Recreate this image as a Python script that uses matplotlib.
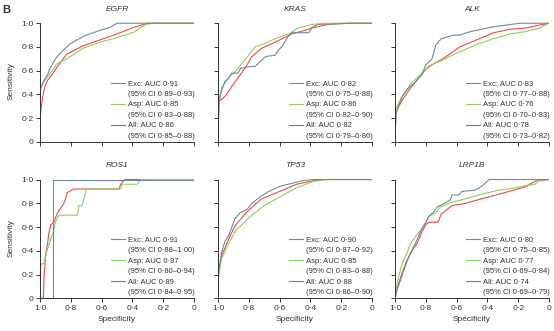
import numpy as np
import matplotlib
matplotlib.use('Agg')
from matplotlib import pyplot as plt
from matplotlib.lines import Line2D

plt.rcParams['font.family'] = ['Liberation Sans', 'DejaVu Sans']

genes = ['EGFR', 'KRAS', 'ALK', 'ROS1', 'TP53', 'LRP1B']
group_names = ['Exc', 'Asp', 'All']
colors = ['#6f8b9b', '#8fcf5c', '#f04848']

x_ticklabels = ['1·0', '0·8', '0·6', '0·4', '0·2', '0']
y_ticklabels = ['0', '0·2', '0·4', '0·6', '0·8', '1·0']

auc_exc = ['0·91', '0·82', '0·83', '0·91', '0·90', '0·80']
ci_exc = ['0·89–0·93', '0·75–0·88', '0·77–0·88', '0·88–1·00', '0·87–0·92', '0·75–0·85']
auc_asp = ['0·85', '0·86', '0·76', '0·87', '0·85', '0·77']
ci_asp = ['0·83–0·88', '0·82–0·90', '0·70–0·83', '0·80–0·94', '0·83–0·88', '0·69–0·84']
auc_all = ['0·86', '0·82', '0·78', '0·89', '0·88', '0·74']
ci_all = ['0·85–0·88', '0·79–0·86', '0·73–0·82', '0·84–0·95', '0·86–0·90', '0·69–0·79']

# EGFR
egfr_exc_spec = [1.0, 0.978, 0.95, 0.935, 0.90, 0.86, 0.827, 0.80, 0.76, 0.70, 0.61, 0.545, 0.50, 0.0]
egfr_exc_sens = [0.43, 0.51, 0.57, 0.62, 0.70, 0.76, 0.80, 0.83, 0.86, 0.90, 0.94, 0.965, 1.0, 1.0]
egfr_asp_spec = [1.0, 0.978, 0.95, 0.92, 0.89, 0.827, 0.72, 0.61, 0.50, 0.39, 0.34, 0.31, 0.26, 0.0]
egfr_asp_sens = [0.47, 0.50, 0.55, 0.60, 0.66, 0.70, 0.79, 0.84, 0.88, 0.925, 0.97, 0.99, 1.0, 1.0]
egfr_all_spec = [1.0, 0.985, 0.97, 0.95, 0.92, 0.89, 0.827, 0.72, 0.61, 0.50, 0.39, 0.30, 0.0]
egfr_all_sens = [0.20, 0.36, 0.46, 0.52, 0.57, 0.63, 0.74, 0.81, 0.86, 0.91, 0.965, 1.0, 1.0]

# KRAS
kras_exc_spec = [1.0, 0.994, 0.975, 0.955, 0.93, 0.91, 0.87, 0.855, 0.80, 0.76, 0.74, 0.69,
                 0.63, 0.61, 0.58, 0.55, 0.52, 0.41, 0.39, 0.28, 0.15, 0.0]
kras_exc_sens = [0.0, 0.34, 0.44, 0.51, 0.54, 0.58, 0.58, 0.62, 0.635, 0.635, 0.66, 0.72,
                 0.73, 0.77, 0.81, 0.88, 0.92, 0.92, 0.96, 0.99, 1.0, 1.0]
kras_asp_spec = [1.0, 0.994, 0.975, 0.93, 0.89, 0.845, 0.80, 0.76, 0.695, 0.63, 0.54, 0.48, 0.39, 0.30, 0.0]
kras_asp_sens = [0.0, 0.35, 0.46, 0.54, 0.59, 0.66, 0.73, 0.80, 0.83, 0.87, 0.91, 0.96, 0.99, 1.0, 1.0]
kras_all_spec = [1.0, 0.994, 0.95, 0.91, 0.87, 0.825, 0.78, 0.715, 0.63, 0.52, 0.41, 0.35, 0.15, 0.0]
kras_all_sens = [0.0, 0.34, 0.39, 0.47, 0.54, 0.62, 0.72, 0.79, 0.84, 0.91, 0.95, 0.99, 1.0, 1.0]

# ALK
alk_exc_spec = [1.0, 0.994, 0.975, 0.955, 0.91, 0.87, 0.825, 0.80, 0.76, 0.735, 0.70, 0.62,
                0.58, 0.51, 0.36, 0.19, 0.0]
alk_exc_sens = [0.0, 0.23, 0.31, 0.38, 0.46, 0.50, 0.57, 0.65, 0.70, 0.816, 0.87, 0.90,
                0.90, 0.93, 0.97, 1.0, 1.0]
alk_asp_spec = [1.0, 0.994, 0.955, 0.89, 0.825, 0.78, 0.69, 0.58, 0.47, 0.36, 0.25, 0.15, 0.06, 0.0]
alk_asp_sens = [0.0, 0.28, 0.38, 0.50, 0.58, 0.64, 0.69, 0.76, 0.82, 0.87, 0.91, 0.93, 0.96, 1.0]
alk_all_spec = [1.0, 0.994, 0.955, 0.89, 0.80, 0.76, 0.69, 0.58, 0.47, 0.36, 0.25, 0.15, 0.06, 0.0]
alk_all_sens = [0.0, 0.25, 0.35, 0.47, 0.61, 0.65, 0.70, 0.80, 0.86, 0.92, 0.95, 0.96, 0.985, 1.0]

# ROS1
ros1_exc_spec = [1.0, 0.913, 0.913, 0.0]
ros1_exc_sens = [0.0, 0.0, 1.0, 1.0]
ros1_asp_spec = [1.0, 0.996, 0.994, 0.975, 0.965, 0.955, 0.935, 0.913, 0.90, 0.877, 0.758,
                 0.748, 0.727, 0.714, 0.697, 0.476, 0.465, 0.37, 0.346, 0.0]
ros1_asp_sens = [0.0, 0.2, 0.29, 0.29, 0.35, 0.40, 0.48, 0.56, 0.64, 0.70, 0.70,
                 0.78, 0.78, 0.84, 0.92, 0.92, 0.96, 0.96, 1.0, 1.0]
ros1_all_spec = [1.0, 0.978, 0.974, 0.963, 0.952, 0.941, 0.93, 0.91, 0.89, 0.87, 0.845,
                 0.833, 0.823, 0.78, 0.487, 0.476, 0.45, 0.0]
ros1_all_sens = [0.0, 0.0, 0.18, 0.37, 0.45, 0.56, 0.62, 0.64, 0.71, 0.75, 0.80,
                 0.84, 0.89, 0.92, 0.92, 0.96, 1.0, 1.0]

# TP53
tp53_exc_spec = [1.0, 0.996, 0.976, 0.955, 0.93, 0.91, 0.89, 0.857, 0.81, 0.78, 0.72, 0.67,
                 0.59, 0.46, 0.39, 0.0]
tp53_exc_sens = [0.0, 0.23, 0.39, 0.48, 0.53, 0.60, 0.67, 0.72, 0.75, 0.80, 0.86, 0.90,
                 0.946, 0.987, 1.0, 1.0]
tp53_asp_spec = [1.0, 0.996, 0.976, 0.93, 0.89, 0.845, 0.80, 0.74, 0.70, 0.59, 0.49, 0.38, 0.30, 0.0]
tp53_asp_sens = [0.0, 0.2, 0.34, 0.46, 0.56, 0.62, 0.68, 0.74, 0.78, 0.86, 0.93, 0.985, 1.0, 1.0]
tp53_all_spec = [1.0, 0.996, 0.976, 0.93, 0.89, 0.845, 0.81, 0.72, 0.59, 0.49, 0.38, 0.30, 0.0]
tp53_all_sens = [0.0, 0.21, 0.36, 0.50, 0.61, 0.68, 0.73, 0.835, 0.905, 0.96, 0.99, 1.0, 1.0]

# LRP1B
lrp1b_exc_spec = [1.0, 0.987, 0.965, 0.944, 0.922, 0.90, 0.868, 0.835, 0.80, 0.78, 0.747,
                  0.725, 0.693, 0.64, 0.63, 0.585, 0.565, 0.48, 0.43, 0.39, 0.0]
lrp1b_exc_sens = [0.0, 0.07, 0.15, 0.23, 0.31, 0.38, 0.46, 0.56, 0.64, 0.69, 0.73,
                  0.77, 0.79, 0.83, 0.87, 0.87, 0.90, 0.91, 0.95, 1.0, 1.0]
lrp1b_asp_spec = [1.0, 0.987, 0.955, 0.922, 0.90, 0.868, 0.835, 0.80, 0.78, 0.736, 0.705,
                  0.65, 0.565, 0.456, 0.33, 0.24, 0.15, 0.09, 0.07, 0.0]
lrp1b_asp_sens = [0.0, 0.12, 0.29, 0.38, 0.46, 0.52, 0.57, 0.64, 0.69, 0.72, 0.77,
                  0.80, 0.83, 0.87, 0.91, 0.925, 0.95, 0.96, 0.995, 1.0]
lrp1b_all_spec = [1.0, 0.987, 0.955, 0.922, 0.89, 0.857, 0.825, 0.80, 0.78, 0.72, 0.70,
                  0.63, 0.54, 0.46, 0.37, 0.26, 0.15, 0.09, 0.0]
lrp1b_all_sens = [0.0, 0.08, 0.21, 0.32, 0.40, 0.46, 0.56, 0.62, 0.64, 0.64, 0.71,
                  0.78, 0.80, 0.83, 0.86, 0.90, 0.94, 0.985, 1.0]

curves = [
    [(egfr_exc_spec, egfr_exc_sens), (egfr_asp_spec, egfr_asp_sens), (egfr_all_spec, egfr_all_sens)],
    [(kras_exc_spec, kras_exc_sens), (kras_asp_spec, kras_asp_sens), (kras_all_spec, kras_all_sens)],
    [(alk_exc_spec, alk_exc_sens), (alk_asp_spec, alk_asp_sens), (alk_all_spec, alk_all_sens)],
    [(ros1_exc_spec, ros1_exc_sens), (ros1_asp_spec, ros1_asp_sens), (ros1_all_spec, ros1_all_sens)],
    [(tp53_exc_spec, tp53_exc_sens), (tp53_asp_spec, tp53_asp_sens), (tp53_all_spec, tp53_all_sens)],
    [(lrp1b_exc_spec, lrp1b_exc_sens), (lrp1b_asp_spec, lrp1b_asp_sens), (lrp1b_all_spec, lrp1b_all_sens)],
]
aucs = [auc_exc, auc_asp, auc_all]
cis = [ci_exc, ci_asp, ci_all]

ink = '#333333'
fig = plt.figure(figsize=(5.54, 3.31), dpi=100)

lefts = [0.0722, 0.3935, 0.713]
bottoms = [0.571, 0.0988]
w, h = 0.278, 0.366

for i, gene in enumerate(genes):
    row, col = divmod(i, 3)
    ax = fig.add_axes([lefts[col], bottoms[row], w, h])
    # draw All first so grey/green sit on top like the original
    for k in [2, 1, 0]:
        spec, sens = curves[i][k]
        ax.plot(spec, sens, color=colors[k], lw=0.8, solid_joinstyle='miter')

    ax.set_xlim(1.0, 0.0)
    ax.set_ylim(0, 1.02)
    ax.set_xticks(np.linspace(1, 0, 6))
    ax.set_yticks(np.linspace(0, 1, 6))
    for side in ['top', 'right']:
        ax.spines[side].set_visible(False)
    for side in ['left', 'bottom']:
        ax.spines[side].set_color(ink)
        ax.spines[side].set_linewidth(0.7)
    ax.spines['left'].set_bounds(0, 1.0)
    ax.tick_params(direction='out', length=3, width=0.7, color=ink,
                   labelsize=6, labelcolor=ink, pad=1.5)

    if row == 1:
        ax.set_xticklabels(x_ticklabels)
        ax.set_xlabel('Specificity', fontsize=6, color=ink, labelpad=3)
    else:
        ax.set_xticklabels([])
    if col == 0:
        ax.set_yticklabels(y_ticklabels)
        ax.set_ylabel('Sensitivity', fontsize=6, color=ink, labelpad=5)
    else:
        ax.set_yticklabels([])

    ax.set_title(gene, fontsize=6, style='italic', color=ink, pad=7)

    handles, labels = [], []
    for k in range(3):
        handles.append(Line2D([], [], color=colors[k], lw=0.8))
        labels.append(f'{group_names[k]}: AUC {aucs[k][i]}')
        handles.append(Line2D([], [], color='none'))
        labels.append(f'(95% CI {cis[k][i]})')
    ax.legend(handles, labels, loc='lower right', bbox_to_anchor=(1.02, 0.0),
              frameon=False, fontsize=5.5, handlelength=1.8, handletextpad=0.4,
              labelspacing=0.4, borderpad=0.3, borderaxespad=0.0,
              labelcolor=ink)

fig.text(0.004, 0.985, 'B', fontsize=8, weight='bold', color=ink, va='top')

fig.savefig('out.png', dpi=100)
